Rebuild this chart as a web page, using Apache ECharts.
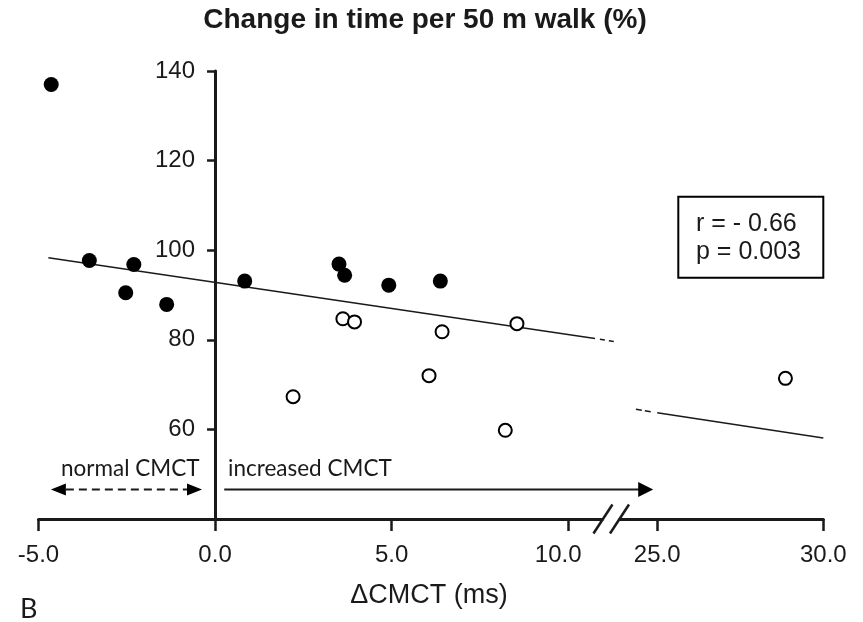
<!DOCTYPE html>
<html>
<head>
<meta charset="utf-8">
<script src="https://cdn.jsdelivr.net/npm/echarts@6/dist/echarts.min.js"></script>
<style>
  html, body { margin: 0; padding: 0; background: #fff; }
  #chart { width: 863px; height: 622px; }
</style>
</head>
<body>
<div id="chart"></div>
<script>
// Change in 50 m walk time (%) against ΔCMCT (ms), x axis broken between 11 and ~24 ms
const xTicksLeft = [-5, 0, 5, 10];
const xTicksRight = [25, 30];
const yTicks = [60, 80, 100, 120, 140];

// filled markers
const filledX = [-4.64, -3.56, -2.30, -2.53, -1.37, 0.84, 3.51, 3.67, 4.92, 6.38];
const filledY = [137.0, 97.7, 96.8, 90.5, 87.9, 93.1, 96.9, 94.4, 92.2, 93.1];
// open markers, left of the break
const openX = [2.21, 3.62, 3.95, 6.43, 6.06, 8.55, 8.22];
const openY = [67.3, 84.7, 84.0, 81.8, 72.0, 83.6, 59.8];
// open marker right of the break
const openFarX = [28.86];
const openFarY = [71.4];

// regression line pieces
const fitLeftX = [-4.72, 10.76];
const fitLeftY = [98.3, 80.3];
const fitLeftTailX = [10.9, 11.33];
const fitLeftTailY = [80.1, 79.6];
const fitRightLeadX = [24.36, 24.85];
const fitRightLeadY = [64.5, 63.9];
const fitRightX = [25, 30];
const fitRightY = [63.7, 58.1];

const statLines = ['r = - 0.66', 'p = 0.003'];

const zip = (xs, ys) => xs.map((x, i) => [x, ys[i]]);

const INK = '#1a1a1a';
const SANS = '"Liberation Sans", Arial, sans-serif';
const HUMANIST = 'Lato, "Open Sans", sans-serif';

const Y_MIN = 40, Y_MAX = 140;
const X_MIN = -5, X_MAX = 11.35;   // left panel runs a little past the break
const BREAK_L = 11, BREAK_R = 23.85;
const PX_PER_MS = 35.31;
const GRID_LEFT = 38.5, GRID_W = (X_MAX - X_MIN) * PX_PER_MS;

const chart = echarts.init(document.getElementById('chart'), null, { renderer: 'canvas' });

const baseX = {
  type: 'value',
  interval: 5,
  splitLine: { show: false },
  axisLine: { onZero: false, lineStyle: { color: INK, width: 3 } },
  axisTick: { length: 12, lineStyle: { color: INK, width: 2.5 } },
  axisLabel: {
    margin: 24,
    color: INK,
    fontFamily: SANS,
    fontSize: 24,
    // the label next to the break is nudged left to keep clear of it
    formatter: v => (v === 10 ? '{near|' + v.toFixed(1) + '}' : v.toFixed(1)),
    rich: { near: { fontFamily: SANS, fontSize: 24, color: INK, padding: [0, 20, 0, 0] } }
  }
};

const fitPiece = (xi, yi, xs, ys, extra) => Object.assign({
  type: 'line', xAxisIndex: xi, yAxisIndex: yi, data: zip(xs, ys),
  symbol: 'none', lineStyle: { color: INK, width: 1.5 }, z: 1
}, extra || {});

chart.setOption({
  animation: false,
  backgroundColor: '#fff',
  grid: [
    { left: GRID_LEFT, top: 71, width: GRID_W, height: 448, outerBoundsMode: 'none', containLabel: false },
    { left: 619, top: 71, width: 204.3, height: 448, outerBoundsMode: 'none', containLabel: false }
  ],
  xAxis: [
    Object.assign({}, baseX, {
      gridIndex: 0, min: X_MIN, max: X_MAX,
      axisTick: Object.assign({}, baseX.axisTick, { customValues: xTicksLeft }),
      axisLabel: Object.assign({}, baseX.axisLabel, { customValues: xTicksLeft })
    }),
    Object.assign({}, baseX, {
      gridIndex: 1, min: BREAK_R, max: 30,
      axisTick: Object.assign({}, baseX.axisTick, { customValues: xTicksRight }),
      axisLabel: Object.assign({}, baseX.axisLabel, { customValues: xTicksRight })
    })
  ],
  yAxis: [
    {
      type: 'value', gridIndex: 0, min: Y_MIN, max: Y_MAX, interval: 20,
      position: 'left',
      // shift the vertical axis across to ΔCMCT = 0
      offset: -GRID_W * (0 - X_MIN) / (X_MAX - X_MIN),
      splitLine: { show: false },
      axisLine: { onZero: false, lineStyle: { color: INK, width: 3 } },
      axisTick: { length: 8, customValues: yTicks, lineStyle: { color: INK, width: 2.5 } },
      axisLabel: {
        margin: 20, color: INK, fontFamily: SANS, fontSize: 24,
        customValues: yTicks
      }
    },
    { type: 'value', gridIndex: 1, min: Y_MIN, max: Y_MAX, show: false }
  ],
  series: [
    fitPiece(0, 0, fitLeftX, fitLeftY),
    fitPiece(0, 0, fitLeftTailX, fitLeftTailY, {
      lineStyle: { color: INK, width: 1.5, type: [5, 4] }
    }),
    fitPiece(1, 1, fitRightLeadX, fitRightLeadY, {
      lineStyle: { color: INK, width: 1.5, type: [6, 3] }
    }),
    fitPiece(1, 1, fitRightX, fitRightY),
    {
      type: 'scatter', xAxisIndex: 0, yAxisIndex: 0, data: zip(filledX, filledY),
      symbol: 'circle', symbolSize: 15, itemStyle: { color: '#000', opacity: 1 }, z: 3
    },
    {
      type: 'scatter', xAxisIndex: 0, yAxisIndex: 0, data: zip(openX, openY),
      symbol: 'circle', symbolSize: 13,
      itemStyle: { color: '#fff', borderColor: '#000', borderWidth: 2, opacity: 1 }, z: 3
    },
    {
      type: 'scatter', xAxisIndex: 1, yAxisIndex: 1, data: zip(openFarX, openFarY),
      symbol: 'circle', symbolSize: 13,
      itemStyle: { color: '#fff', borderColor: '#000', borderWidth: 2, opacity: 1 }, z: 3
    }
  ]
});

// annotations placed from axis coordinates
const px0 = p => chart.convertToPixel({ xAxisIndex: 0, yAxisIndex: 0 }, p);
const px1 = p => chart.convertToPixel({ xAxisIndex: 1, yAxisIndex: 1 }, p);

const arrowY = 46.6;
const dashL = px0([-4.65, arrowY]);
const dashR = px0([-0.37, arrowY]);
const solidL = px0([0.26, arrowY]);
const solidR = px1([24.88, arrowY]);
const breakL = px0([BREAK_L, Y_MIN]);
const breakR = px1([BREAK_R, Y_MIN]);

const head = (tipX, y, dir, len, half) => ({
  type: 'polygon',
  shape: { points: [[tipX, y], [tipX - dir * len, y - half], [tipX - dir * len, y + half]] },
  style: { fill: '#000' }
});
const slash = (cx, cy) => ({
  type: 'line',
  shape: { x1: cx - 9.5, y1: cy + 14.5, x2: cx + 9.5, y2: cy - 14.5 },
  style: { stroke: INK, lineWidth: 2.5 },
  z: 61
});

chart.setOption({
  graphic: [
    {
      type: 'text', x: 425, y: 20,
      style: { text: 'Change in time per 50 m walk (%)', font: 'bold 28px ' + SANS, fill: INK, align: 'center', verticalAlign: 'middle' },
      z: 10
    },
    {
      type: 'text', x: 429, y: 596,
      style: { text: 'ΔCMCT (ms)', font: '27px ' + SANS, fill: INK, align: 'center', verticalAlign: 'middle' }
    },
    {
      type: 'text', x: 20, y: 609,
      style: { text: 'B', font: '27px ' + HUMANIST, fill: INK, align: 'left', verticalAlign: 'middle' }
    },
    // statistics box
    {
      type: 'rect',
      shape: { x: 678.3, y: 196.7, width: 145, height: 81 },
      style: { fill: '#fff', stroke: '#000', lineWidth: 2 }, z: 5
    },
    {
      type: 'text', x: 696, y: 224,
      style: { text: statLines[0], font: '25px ' + SANS, fill: INK, align: 'left', verticalAlign: 'middle' }, z: 6
    },
    {
      type: 'text', x: 696, y: 252.5,
      style: { text: statLines[1], font: '25px ' + SANS, fill: INK, align: 'left', verticalAlign: 'middle' }, z: 6
    },
    // normal / increased CMCT arrows
    {
      type: 'text', x: 61, y: 480,
      style: { text: 'normal CMCT', font: '22.5px ' + HUMANIST, fill: INK, align: 'left', verticalAlign: 'bottom' }
    },
    {
      type: 'text', x: 228, y: 480,
      style: { text: 'increased CMCT', font: '22.5px ' + HUMANIST, fill: INK, align: 'left', verticalAlign: 'bottom' }
    },
    {
      type: 'line',
      shape: { x1: dashL[0] + 15, y1: dashL[1], x2: dashR[0] - 15, y2: dashR[1] },
      style: { stroke: INK, lineWidth: 2, lineDash: [8, 5] }
    },
    head(dashL[0], dashL[1], -1, 15, 6),
    head(dashR[0], dashR[1], 1, 15, 6),
    {
      type: 'line',
      shape: { x1: solidL[0], y1: solidL[1], x2: solidR[0] - 14, y2: solidR[1] },
      style: { stroke: INK, lineWidth: 2 }
    },
    head(solidR[0], solidR[1], 1, 15, 7.5),
    // axis break: blank gap with two slashes
    {
      type: 'rect',
      shape: { x: breakL[0], y: breakL[1] - 3, width: breakR[0] - breakL[0] - 0.5, height: 6 },
      style: { fill: '#fff' },
      z: 60
    },
    slash(breakL[0] - 0.5, breakL[1]),
    slash(breakR[0] + 0.5, breakR[1])
  ]
});
</script>
</body>
</html>
